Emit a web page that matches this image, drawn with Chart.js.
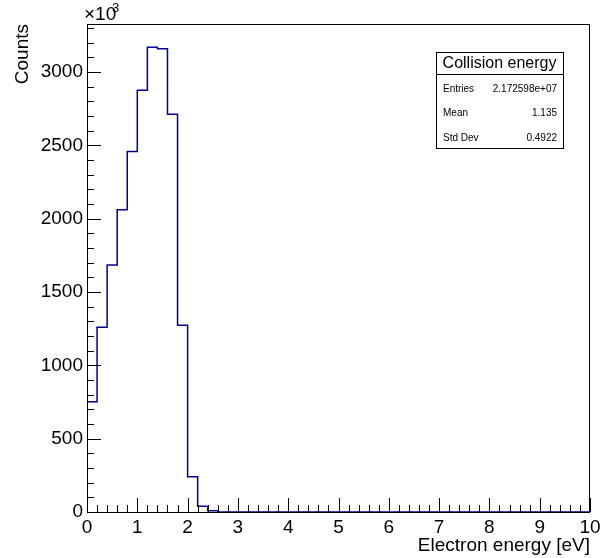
<!DOCTYPE html>
<html lang="en">
<head>
    <meta charset="UTF-8">
    <title>Collision energy</title>
    <script src="https://cdn.jsdelivr.net/npm/chart.js"></script>
    <style>
        html, body { margin: 0; padding: 0; background: #fff; }
    </style>
</head>
<body>
    <canvas id="hist" width="611" height="558"></canvas>
    <script>
        // histogram: 50 bins of 0.2 eV, counts in units of 10^3
        const binWidth = 0.2;
        const counts = [
            752, 1259, 1684, 2061, 2457, 2875, 3168, 3159, 2711, 1273,
            241, 40, 8, 0, 0, 0, 0, 0, 0, 0,
            0, 0, 0, 0, 0, 0, 0, 0, 0, 0,
            0, 0, 0, 0, 0, 0, 0, 0, 0, 0,
            0, 0, 0, 0, 0, 0, 0, 0, 0, 0
        ];
        const xTicks = [0, 1, 2, 3, 4, 5, 6, 7, 8, 9, 10];
        const yTicks = [0, 500, 1000, 1500, 2000, 2500, 3000];
        const statLabels = ['Entries', 'Mean', 'Std Dev'];
        const statValues = ['2.172598e+07', '1.135', '0.4922'];

        const font = '"Liberation Sans", Arial, sans-serif';

        // one point per bin at its left edge, plus the right edge of the last bin
        const points = counts.map((v, i) => ({ x: i * binWidth, y: v }));
        points.push({ x: counts.length * binWidth, y: counts[counts.length - 1] });

        // frame, inward ticks, titles and stats box, ROOT style
        const rootStyle = {
            id: 'rootStyle',
            afterDraw(chart) {
                const c = chart.ctx;
                const a = chart.chartArea;
                const xs = chart.scales.x, ys = chart.scales.y;
                c.save();
                c.strokeStyle = '#000';
                c.lineWidth = 1;
                c.strokeRect(a.left + 0.5, a.top + 0.5, a.right - a.left - 1, a.bottom - a.top);

                c.beginPath();
                for (let v = 0; v <= 10.001; v += 0.2) {
                    const px = Math.round(xs.getPixelForValue(v)) + 0.5;
                    const major = Math.abs(v - Math.round(v)) < 0.01;
                    c.moveTo(px, a.bottom);
                    c.lineTo(px, a.bottom - (major ? 14 : 7));
                }
                for (let v = 0; v <= 3300; v += 100) {
                    const py = Math.round(ys.getPixelForValue(v)) + 0.5;
                    c.moveTo(a.left, py);
                    c.lineTo(a.left + (v % 500 === 0 ? 14 : 7), py);
                }
                c.stroke();

                c.fillStyle = '#000';
                // axis titles
                c.font = '19px ' + font;
                c.textAlign = 'right';
                c.textBaseline = 'alphabetic';
                c.fillText('Electron energy [eV]', a.right, 551);
                c.save();
                c.translate(28, a.top);
                c.rotate(-Math.PI / 2);
                c.fillText('Counts', 0, 0);
                c.restore();

                c.textAlign = 'left';
                c.fillText('\u00d710', a.left - 3, 20);
                c.font = '13px ' + font;
                c.fillText('3', a.left + 25, 12);

                // stats box
                const bx = 436, by = 52, bw = 127, bh = 96;
                c.fillStyle = '#fff';
                c.fillRect(bx, by, bw, bh);
                c.strokeRect(bx + 0.5, by + 0.5, bw, bh);
                c.beginPath();
                c.moveTo(bx, by + 22.5);
                c.lineTo(bx + bw, by + 22.5);
                c.stroke();
                c.fillStyle = '#000';
                c.font = '16px ' + font;
                c.textAlign = 'center';
                c.textBaseline = 'middle';
                c.fillText('Collision energy', bx + bw / 2, by + 12);
                c.font = '10px ' + font;
                const rowY = [89, 113, 138];
                statLabels.forEach((s, i) => {
                    c.textAlign = 'left';
                    c.fillText(s, bx + 7, rowY[i]);
                    c.textAlign = 'right';
                    c.fillText(statValues[i], bx + bw - 6, rowY[i]);
                });
                c.restore();
            }
        };

        new Chart(document.getElementById('hist'), {
            type: 'line',
            data: {
                datasets: [{
                    data: points,
                    stepped: 'before',
                    borderColor: '#000099',
                    borderWidth: 1.5,
                    pointRadius: 0,
                    fill: false
                }]
            },
            options: {
                responsive: false,
                animation: false,
                layout: { padding: { top: 24, right: 21, left: 0, bottom: 0 } },
                plugins: { legend: { display: false }, tooltip: { enabled: false } },
                scales: {
                    x: {
                        type: 'linear',
                        min: 0,
                        max: 10,
                        afterBuildTicks: s => { s.ticks = xTicks.map(v => ({ value: v })); },
                        afterFit: s => { s.height = 46; },
                        grid: { display: false, drawTicks: false },
                        border: { display: false },
                        ticks: { padding: 4, maxRotation: 0, color: '#000', font: { family: font, size: 19 } }
                    },
                    y: {
                        min: 0,
                        max: 3327,
                        afterBuildTicks: s => { s.ticks = yTicks.map(v => ({ value: v })); },
                        afterFit: s => { s.width = 87; },
                        grid: { display: false, drawTicks: false },
                        border: { display: false },
                        ticks: {
                            padding: 4,
                            color: '#000',
                            font: { family: font, size: 19 },
                            callback: v => String(v)
                        }
                    }
                }
            },
            plugins: [rootStyle]
        });
    </script>
</body>
</html>
